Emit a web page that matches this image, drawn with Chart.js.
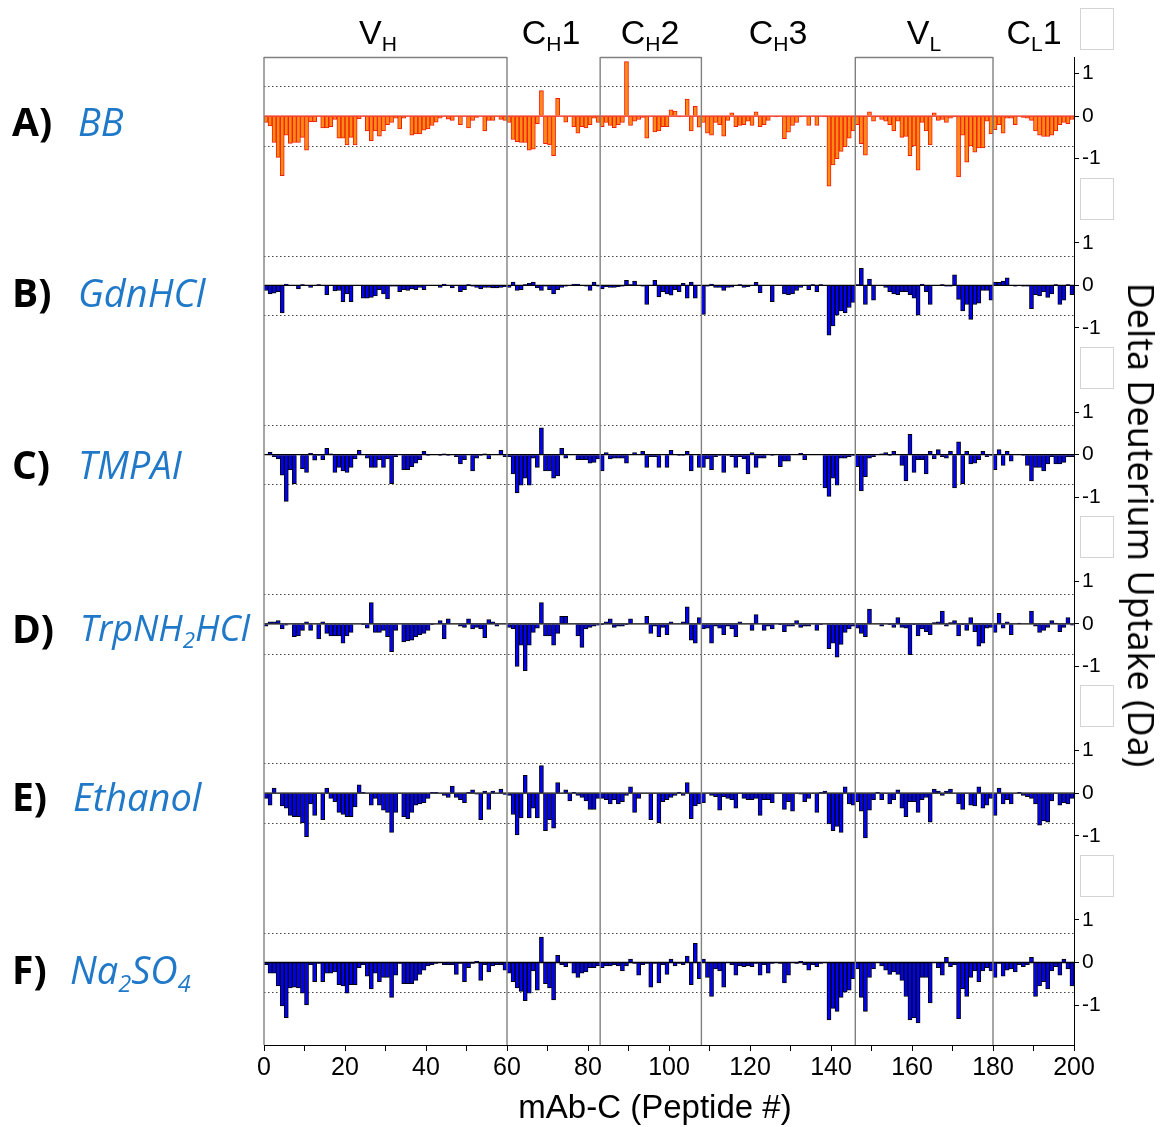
<!DOCTYPE html>
<html>
<head>
<meta charset="utf-8">
<title>mAb-C delta deuterium uptake</title>
<script src="https://cdn.jsdelivr.net/npm/chart.js@4.4.1/dist/chart.umd.min.js"></script>
<style>
  body { margin: 0; background: #fff; }
  #wrap { position: relative; width: 1166px; height: 1127px; overflow: hidden; }
  #hdx { position: absolute; left: 0; top: 0; }
  .txt { position: absolute; white-space: nowrap; line-height: 1; }
  .pid { font-family: 'Open Sans', sans-serif; font-weight: bold; font-size: 39px; color: #000; left: 12px; }
  .pname { font-family: 'Open Sans', sans-serif; font-style: italic; font-size: 38px; color: #1f78c8; }
  .region { font-family: 'Liberation Sans', Arial, sans-serif; font-size: 34px; color: #000; top: 15px; transform: translateX(-50%); }
  .txt sub { font-size: 0.62em; vertical-align: -0.32em; line-height: 0; }
  .ybox { position: absolute; left: 1080px; width: 34px; height: 42px; border: 1px solid #d4d4d4; box-sizing: border-box; }
  #xtitle { font-family: 'Liberation Sans', Arial, sans-serif; font-size: 33px; left: 655px; top: 1106px; transform: translate(-50%, -50%); }
  #ytitle { font-family: 'Open Sans', sans-serif; font-size: 36px; left: 1141px; top: 525px; transform: translate(-50%, -50%) rotate(90deg); }
</style>
</head>
<body>
<div id="wrap">
  <canvas id="hdx" width="1166" height="1127"></canvas>

  <div class="txt region" style="left:378px">V<sub>H</sub></div>
  <div class="txt region" style="left:551px">C<sub>H</sub>1</div>
  <div class="txt region" style="left:650px">C<sub>H</sub>2</div>
  <div class="txt region" style="left:778px">C<sub>H</sub>3</div>
  <div class="txt region" style="left:924px">V<sub>L</sub></div>
  <div class="txt region" style="left:1034px">C<sub>L</sub>1</div>

  <div class="txt pid" style="top:101px">A)</div>
  <div class="txt pname" style="left:78px; top:102px">BB</div>
  <div class="txt pid" style="top:272px">B)</div>
  <div class="txt pname" style="left:78px; top:273px">GdnHCl</div>
  <div class="txt pid" style="top:444px">C)</div>
  <div class="txt pname" style="left:78px; top:445px">TMPAI</div>
  <div class="txt pid" style="top:608px">D)</div>
  <div class="txt pname" style="left:80px; top:610px; font-size:36px">TrpNH<sub>2</sub>HCl</div>
  <div class="txt pid" style="top:776px">E)</div>
  <div class="txt pname" style="left:73px; top:777px">Ethanol</div>
  <div class="txt pid" style="top:949px">F)</div>
  <div class="txt pname" style="left:70px; top:950px">Na<sub>2</sub>SO<sub>4</sub></div>

  <div class="ybox" style="top:8px"></div>
  <div class="ybox" style="top:178px"></div>
  <div class="ybox" style="top:347px"></div>
  <div class="ybox" style="top:516px"></div>
  <div class="ybox" style="top:685px"></div>
  <div class="ybox" style="top:855px"></div>

  <div class="txt" id="xtitle">mAb-C (Peptide #)</div>
  <div class="txt" id="ytitle">Delta Deuterium Uptake (Da)</div>
</div>

<script>
// ---- data: delta deuterium uptake (Da) per peptide, 200 peptides per condition
// rows grouped by domain: VH (0-59) | CH1 (60-82) | CH2 (83-107) | CH3 (108-145) | VL (146-179) | CL1 (180-199)
const bbUptake = [
  -0.15,-0.23,-0.62,-0.97,-1.40,-0.45,-0.64,-0.62,-0.62,-0.50,-0.80,-0.13,-0.13,0,-0.28,-0.28,-0.25,-0.08,-0.52,-0.52,
  -0.68,-0.50,-0.68,-0.06,0,-0.35,-0.58,-0.35,-0.47,-0.35,-0.20,-0.15,-0.05,-0.30,-0.05,0,-0.45,-0.42,-0.42,-0.33,
  -0.30,-0.22,-0.14,-0.05,0,-0.07,-0.10,0,-0.20,0,-0.28,-0.10,-0.03,0,-0.35,-0.10,-0.10,0,-0.08,-0.10,
  -0.15,-0.55,-0.60,-0.62,-0.62,-0.80,-0.78,-0.18,0.60,-0.65,-0.68,-0.93,0.42,0,-0.14,0,-0.25,-0.40,-0.25,-0.28,-0.20,-0.05,-0.15,
  -0.25,-0.15,-0.22,-0.27,-0.20,-0.15,1.28,-0.22,-0.12,-0.08,-0.03,-0.52,0,-0.37,-0.35,-0.25,-0.25,0.15,0.12,-0.02,0,0.40,-0.35,0.23,-0.26,
  -0.15,-0.40,-0.45,-0.15,-0.20,-0.47,-0.10,0.08,-0.25,-0.22,-0.20,-0.12,-0.22,0.10,-0.25,-0.20,-0.10,0,-0.02,0,
  -0.53,-0.38,-0.22,-0.15,-0.02,0,-0.22,0,-0.22,0,-0.02,-1.65,-1.15,-1.00,-0.83,-0.72,-0.52,-0.35,
  -0.20,-0.65,-0.92,0.10,-0.12,-0.02,-0.08,-0.12,-0.20,-0.35,-0.12,-0.50,-0.48,-0.93,-0.70,-1.27,-0.15,-0.35,-0.68,0.08,
  -0.10,-0.08,-0.15,-0.05,-0.02,-1.43,-0.45,-1.08,-0.70,-0.85,-0.75,-0.75,-0.12,-0.42,
  -0.32,-0.20,-0.40,-0.05,-0.05,-0.20,0,-0.03,-0.05,-0.10,-0.35,-0.45,-0.48,-0.48,-0.45,-0.35,-0.20,-0.15,-0.18,-0.08
];
const gdnUptake = [
  -0.12,-0.20,-0.18,-0.15,-0.65,0.03,0,0,-0.08,0.02,0,-0.05,0,0.02,0,-0.22,0,-0.13,-0.12,-0.38,
  -0.20,-0.38,0,0,-0.30,-0.30,-0.28,-0.25,-0.10,-0.20,-0.32,-0.02,-0.02,-0.15,-0.10,-0.12,-0.08,-0.10,-0.05,-0.10,
  0,0,0,-0.05,0.03,0,-0.06,0,-0.15,-0.10,0.02,-0.02,-0.05,-0.08,-0.05,-0.05,-0.06,-0.06,-0.05,-0.03,
  -0.05,0.08,-0.12,-0.10,0.02,0.05,0.08,-0.06,-0.12,-0.02,-0.10,-0.20,-0.10,-0.05,-0.02,0,0.03,0.03,0,-0.02,-0.12,0.08,-0.02,
  -0.08,-0.03,-0.05,-0.05,-0.03,-0.02,0.12,0.02,0.10,0,-0.02,-0.45,0,0.12,-0.27,-0.15,-0.20,-0.23,-0.10,-0.15,0.05,-0.30,0.08,-0.30,0,
  -0.68,-0.02,0.03,-0.05,-0.05,-0.12,-0.05,-0.04,0,0.02,-0.05,-0.03,0,0.07,-0.17,0,0,-0.38,0,0,
  -0.20,-0.22,-0.20,-0.12,-0.05,0,-0.10,0.02,-0.15,0.02,0,-1.17,-0.95,-0.70,-0.60,-0.65,-0.52,-0.40,
  0.02,0.40,-0.45,0.15,-0.35,0,0,-0.05,-0.15,-0.20,-0.22,-0.15,-0.15,-0.22,-0.30,-0.70,0.03,-0.15,-0.45,0,
  0,0.02,-0.02,-0.02,0.25,-0.33,-0.60,-0.45,-0.80,-0.45,-0.42,-0.12,-0.12,-0.35,
  0.08,0.07,0.10,0.18,0,-0.02,0,-0.02,-0.02,-0.55,-0.22,-0.25,-0.15,-0.28,-0.20,0.02,-0.45,-0.35,0.02,-0.22
];
const tmpaiUptake = [
  0,0.06,-0.05,-0.10,-0.48,-1.10,-0.35,-0.68,0,-0.33,-0.42,0.03,-0.13,-0.02,-0.12,0.15,0.02,-0.42,-0.30,-0.38,
  -0.42,-0.30,-0.10,0.10,0,-0.08,-0.30,-0.30,-0.12,-0.30,-0.10,-0.68,-0.05,0,-0.35,-0.35,-0.28,-0.20,-0.12,0.08,
  -0.02,0,0,-0.02,0.02,-0.02,0,-0.05,-0.22,-0.12,0,-0.38,-0.08,-0.02,0.02,-0.10,0,0,0.10,-0.05,
  -0.05,-0.45,-0.90,-0.72,-0.55,-0.72,-0.08,-0.30,0.63,-0.38,-0.38,-0.55,-0.50,0.15,-0.08,0,0,-0.12,-0.12,-0.12,-0.20,-0.18,-0.10,
  -0.38,0.05,-0.10,-0.08,-0.08,-0.08,-0.20,0,0.05,0,0.08,-0.30,-0.05,-0.05,-0.30,0,-0.30,0.10,0,-0.02,-0.02,0.08,-0.38,0,-0.30,
  -0.30,-0.10,-0.35,-0.05,-0.02,-0.42,-0.02,-0.05,-0.30,-0.05,-0.10,-0.45,0.05,-0.30,-0.08,-0.08,0,-0.02,0,-0.28,
  -0.15,-0.15,0,0,0.03,-0.12,0,0,0,0,-0.78,-0.98,-0.55,-0.72,-0.08,-0.08,-0.05,-0.02,
  -0.28,-0.85,-0.52,-0.08,-0.05,0,0.02,0.05,-0.02,0.08,0,-0.25,-0.62,0.48,-0.42,-0.12,-0.12,-0.45,0.08,-0.10,
  0.12,-0.05,-0.08,0.08,-0.78,0.30,-0.68,0.08,-0.22,-0.20,-0.12,0.08,-0.05,-0.02,
  -0.35,0.12,-0.25,0.08,-0.15,0,0,-0.02,-0.25,-0.62,-0.30,-0.30,-0.38,-0.22,-0.05,-0.22,-0.22,-0.18,-0.05,-0.05
];
const trpUptake = [
  -0.05,0.05,0.05,0.08,-0.12,-0.03,0,-0.30,-0.28,-0.15,0.05,-0.15,0,-0.35,0.05,-0.22,-0.28,-0.28,-0.28,-0.45,
  -0.28,-0.20,0,0,-0.02,-0.10,0.50,-0.20,-0.20,-0.15,-0.30,-0.65,-0.15,0,-0.42,-0.40,-0.38,-0.30,-0.25,-0.22,
  -0.15,-0.02,0,0.08,-0.35,0.12,0,0,-0.05,-0.08,0.12,-0.12,-0.08,-0.12,-0.32,0.10,0.05,-0.05,0,0,
  -0.08,-0.12,-1.00,-0.50,-1.10,-0.50,-0.20,-0.10,0.50,-0.28,-0.28,-0.50,-0.22,0.18,0.18,0,0,-0.28,-0.55,-0.12,-0.08,-0.05,-0.03,
  -0.02,0.05,0.12,-0.08,-0.05,-0.05,-0.02,0.12,0,0,0,0.18,-0.22,-0.05,-0.30,-0.08,-0.25,0.05,0,0,0.05,0.40,-0.38,-0.45,0.15,
  -0.12,-0.10,-0.45,-0.05,-0.10,-0.25,-0.05,-0.12,-0.30,0.05,0,0,-0.15,0.22,0,-0.15,-0.05,-0.12,0,-0.02,
  -0.18,-0.05,-0.05,0.08,-0.08,-0.05,-0.05,0,-0.15,-0.02,0,-0.58,-0.45,-0.78,-0.48,-0.20,-0.12,-0.05,
  -0.10,-0.22,-0.30,0.35,0,0,-0.05,0,-0.02,-0.08,0.15,-0.08,-0.10,-0.72,-0.02,-0.28,-0.12,-0.18,-0.25,0.03,
  0.05,0.30,-0.05,0.03,0.08,-0.28,-0.02,-0.15,0.15,-0.18,-0.52,-0.45,-0.10,-0.08,
  -0.20,0.25,-0.10,0.05,-0.25,0,0.02,0,0,0.30,-0.05,-0.20,-0.15,-0.08,0.08,0.02,-0.18,-0.08,0.15,-0.03
];
const ethanolUptake = [
  -0.12,-0.28,0.12,0,-0.30,-0.35,-0.52,-0.55,-0.55,-0.70,-1.02,-0.25,-0.52,0,-0.62,0.12,-0.12,-0.20,-0.45,-0.50,
  -0.55,-0.55,-0.32,0.20,0.02,0,-0.28,-0.12,-0.28,-0.40,-0.45,-0.92,-0.45,0,-0.55,-0.60,-0.45,-0.28,-0.25,-0.22,
  -0.12,0.02,0.02,0,-0.05,-0.10,0.17,-0.10,-0.15,-0.22,0.02,0.08,-0.02,-0.62,0.05,-0.38,0.05,0,0.10,-0.03,
  -0.05,-0.50,-0.98,-0.58,0.42,-0.58,-0.35,-0.58,0.65,-0.88,-0.62,-0.82,0.25,0,0.08,-0.18,0.02,-0.05,-0.10,-0.18,-0.38,-0.38,-0.12,
  -0.12,-0.15,-0.25,-0.15,-0.25,-0.20,-0.05,0.15,-0.45,-0.12,0,0,-0.62,0,-0.70,-0.20,-0.15,-0.10,-0.05,0.02,-0.05,0.25,-0.60,-0.30,-0.25,
  -0.22,0,-0.05,-0.08,-0.40,-0.08,-0.12,-0.15,-0.35,0,-0.12,-0.15,-0.15,-0.12,-0.52,-0.15,-0.15,-0.22,0,0,
  -0.38,-0.20,-0.42,0,-0.02,-0.20,-0.12,0,-0.45,0.02,0.05,-0.72,-0.88,-0.78,-0.92,0.15,-0.25,-0.28,
  -0.20,-0.42,-1.05,-0.40,-0.15,0.02,-0.15,0,-0.25,-0.15,0.08,-0.35,-0.55,-0.20,-0.20,-0.45,-0.15,-0.10,-0.68,0.10,
  0.05,-0.05,0.05,0.10,0,-0.25,-0.38,0,-0.28,-0.30,0.15,-0.35,-0.28,-0.12,
  -0.52,0.12,-0.25,-0.15,-0.25,0,0.02,-0.05,-0.08,-0.12,-0.25,-0.75,-0.65,-0.68,-0.18,0,-0.28,-0.22,-0.25,-0.12
];
const na2so4Uptake = [
  -0.05,-0.25,-0.25,-0.55,-1.02,-1.30,-0.60,-0.58,-0.60,-0.72,-1.00,-0.05,-0.45,-0.02,-0.45,-0.25,-0.25,-0.22,-0.52,-0.55,
  -0.72,-0.52,-0.52,-0.12,-0.05,-0.32,-0.62,-0.25,-0.45,-0.35,-0.35,-0.82,-0.30,-0.02,-0.50,-0.50,-0.50,-0.42,-0.28,-0.18,
  -0.08,-0.05,-0.02,0,-0.05,-0.05,-0.05,-0.28,-0.02,-0.45,-0.12,-0.02,0.03,-0.42,-0.05,-0.22,-0.08,-0.05,-0.05,-0.18,
  -0.25,-0.45,-0.60,-0.68,-0.90,-0.72,-0.20,-0.65,0.60,-0.50,-0.60,-0.88,0.17,-0.05,-0.10,0,-0.25,-0.35,-0.25,-0.22,-0.12,-0.12,-0.08,
  -0.12,-0.08,-0.08,-0.05,-0.08,-0.20,-0.08,0.08,-0.02,-0.30,-0.05,-0.02,-0.58,-0.02,-0.48,-0.05,-0.28,0.08,-0.08,-0.02,-0.05,0.15,-0.52,0.45,-0.38,
  0.08,-0.35,-0.80,-0.15,-0.20,-0.58,0,-0.05,-0.30,-0.08,-0.10,-0.08,-0.10,-0.02,-0.30,-0.05,-0.25,-0.02,0,-0.02,
  -0.48,-0.30,0,-0.02,0.03,-0.05,-0.18,-0.05,-0.10,-0.02,0,-1.35,-1.08,-1.15,-0.82,-0.70,-0.65,-0.38,
  -0.15,-0.82,-1.15,-0.35,-0.15,0,-0.08,-0.18,-0.28,-0.22,-0.28,-0.42,-0.80,-1.35,-1.30,-1.42,-0.35,-0.35,-0.95,0,
  -0.12,-0.30,0.12,-0.10,-0.05,-1.32,-0.62,-0.80,-0.35,-0.20,-0.45,-0.20,-0.12,-0.20,
  -0.35,-0.02,-0.32,-0.18,-0.15,-0.22,-0.05,-0.10,-0.05,0.12,-0.80,-0.55,-0.45,-0.62,-0.20,-0.10,-0.30,0.08,-0.15,-0.55
];

const regionBounds = [0, 60, 83, 108, 146, 180, 200];   // domain dividers on the peptide axis
const boxedRegions = [[0, 60], [83, 108], [146, 180]];  // VH, CH2, VL frames
const xTickStep = 20;
const yTickValues = [-1, 0, 1];
const significance = [-0.7, 0.7];                       // dotted threshold lines (Da)

// one stacked y axis per condition, top to bottom
const panels = [
  { id: 'yA', name: 'BB',        values: bbUptake,      min: -1.99, max: 1.39, fill: '#ff8a14', edge: '#f21b0c', zero: '#f21b0c' },
  { id: 'yB', name: 'GdnHCl',    values: gdnUptake,     min: -1.99, max: 1.99, fill: '#0000f2', edge: '#000000', zero: '#000000' },
  { id: 'yC', name: 'TMPAI',     values: tmpaiUptake,   min: -1.99, max: 1.99, fill: '#0000f2', edge: '#000000', zero: '#000000' },
  { id: 'yD', name: 'TrpNH2HCl', values: trpUptake,     min: -1.99, max: 1.99, fill: '#0000f2', edge: '#000000', zero: '#000000' },
  { id: 'yE', name: 'Ethanol',   values: ethanolUptake, min: -1.99, max: 1.99, fill: '#0000f2', edge: '#000000', zero: '#000000' },
  { id: 'yF', name: 'Na2SO4',    values: na2so4Uptake,  min: -1.94, max: 1.99, fill: '#0000f2', edge: '#000000', zero: '#000000' }
];

Chart.defaults.font.family = "'Liberation Sans', Arial, sans-serif";
Chart.defaults.color = '#000';

/* dotted thresholds, zero lines and domain frames */
const overlay = {
  id: 'overlay',
  beforeDatasetsDraw(chart) {
    const { ctx, chartArea: a } = chart;
    ctx.save();
    ctx.setLineDash([1.5, 2.5]);
    ctx.strokeStyle = '#444';
    ctx.lineWidth = 1;
    panels.forEach(p => {
      const s = chart.scales[p.id];
      significance.forEach(v => {
        const y = Math.round(s.getPixelForValue(v)) + 0.5;
        ctx.beginPath(); ctx.moveTo(a.left, y); ctx.lineTo(a.right, y); ctx.stroke();
      });
    });
    ctx.restore();
  },
  afterDatasetsDraw(chart) {
    const { ctx, chartArea: a } = chart;
    const xs = chart.scales.x;
    ctx.save();
    panels.forEach(p => {
      const y = chart.scales[p.id].getPixelForValue(0);
      ctx.strokeStyle = p.zero;
      ctx.lineWidth = 1.3;
      ctx.beginPath(); ctx.moveTo(a.left, y); ctx.lineTo(a.right, y); ctx.stroke();
    });
    ctx.strokeStyle = '#808080';
    ctx.lineWidth = 1.4;
    regionBounds.slice(0, -1).forEach(v => {
      const x = xs.getPixelForValue(v);
      ctx.beginPath(); ctx.moveTo(x, a.top); ctx.lineTo(x, a.bottom); ctx.stroke();
    });
    boxedRegions.forEach(([x0, x1]) => {
      ctx.beginPath();
      ctx.moveTo(xs.getPixelForValue(x0), a.top + 0.5);
      ctx.lineTo(xs.getPixelForValue(x1), a.top + 0.5);
      ctx.stroke();
    });
    ctx.restore();
  }
};

const scales = {
  x: {
    type: 'linear', position: 'bottom', min: 0, max: 200, offset: false,
    afterBuildTicks: s => {
      const t = [];
      for (let v = 0; v <= 200; v += xTickStep / 2) t.push({ value: v });
      s.ticks = t;
    },
    afterFit: s => { s.height = 45; },
    ticks: { font: { size: 25 }, padding: 2, maxRotation: 0, autoSkip: false,
             callback: v => (v % xTickStep === 0 ? v : '') },
    grid: { drawOnChartArea: false, offset: false, tickLength: 6, color: '#000' },
    border: { display: true, color: '#000', width: 1 }
  }
};
panels.forEach(p => {
  scales[p.id] = {
    type: 'linear', position: 'right', stack: 'panels', stackWeight: p.max - p.min,
    min: p.min, max: p.max,
    afterBuildTicks: s => { s.ticks = yTickValues.map(v => ({ value: v })); },
    afterFit: s => { s.width = 42; },
    ticks: { font: { size: 21 }, padding: 3 },
    grid: { drawOnChartArea: false, tickLength: 5, color: '#000' },
    border: { display: true, color: '#000', width: 1 }
  };
});

new Chart(document.getElementById('hdx'), {
  type: 'bar',
  data: {
    datasets: panels.map(p => ({
      label: p.name,
      yAxisID: p.id,
      data: p.values.map((v, i) => ({ x: i + 0.5, y: v })),
      backgroundColor: p.fill,
      borderColor: p.edge,
      borderWidth: 1,
      barPercentage: 1,
      categoryPercentage: 1,
      grouped: false
    }))
  },
  options: {
    responsive: false,
    animation: false,
    layout: { padding: { left: 264, top: 57, right: 50, bottom: 37 } },
    plugins: { legend: { display: false }, tooltip: { enabled: false } },
    scales
  },
  plugins: [overlay]
});
</script>
</body>
</html>
